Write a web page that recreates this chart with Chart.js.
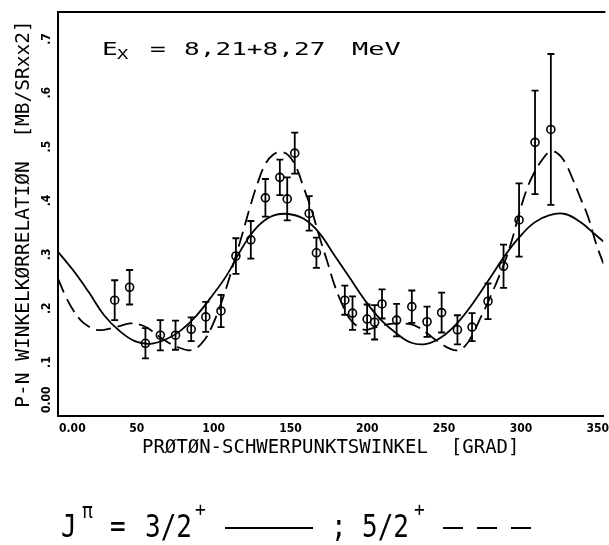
<!DOCTYPE html>
<html><head><meta charset="utf-8">
<script src="https://cdn.jsdelivr.net/npm/chart.js@4.4.1/dist/chart.umd.min.js"></script>
<style>html,body{margin:0;padding:0;background:#fff;}</style>
</head><body>
<canvas id="c" width="609" height="545"></canvas>
<script>
// ---- data ----
const pointAngles = [36.9, 46.6, 56.9, 66.6, 76.5, 86.7, 96.2, 106.1, 115.8, 125.5, 135.0, 144.4, 149.2, 154.1, 163.5, 168.2, 186.7, 191.7, 201.2, 206.1, 210.9, 220.4, 230.3, 240.2, 249.7, 260.0, 269.5, 279.9, 290.0, 300.1, 310.5, 320.8];
const pointValues = [0.215, 0.239, 0.135, 0.150, 0.150, 0.161, 0.184, 0.195, 0.297, 0.327, 0.405, 0.443, 0.403, 0.488, 0.376, 0.303, 0.215, 0.191, 0.180, 0.174, 0.208, 0.178, 0.203, 0.175, 0.192, 0.160, 0.165, 0.213, 0.278, 0.364, 0.508, 0.532];
const pointErrors = [0.037, 0.032, 0.028, 0.028, 0.027, 0.022, 0.028, 0.030, 0.033, 0.035, 0.035, 0.033, 0.040, 0.038, 0.032, 0.028, 0.027, 0.031, 0.027, 0.032, 0.027, 0.030, 0.030, 0.028, 0.037, 0.027, 0.026, 0.033, 0.040, 0.068, 0.096, 0.140];

const fit32Angles = [0,10,20,30,40,50,60,70,80,90,100,110,120,130,140,150,160,170,180,190,200,210,220,230,240,250,260,270,280,290,300,310,320,330,340,350,355];
const fit32Values = [0.305,0.270,0.230,0.187,0.158,0.139,0.134,0.142,0.159,0.186,0.222,0.262,0.313,0.352,0.372,0.375,0.366,0.340,0.298,0.256,0.214,0.179,0.154,0.136,0.134,0.147,0.173,0.209,0.251,0.294,0.331,0.359,0.373,0.375,0.360,0.336,0.324];

const fit52Angles = [0,5,10,15,20,25,30,40,47,55,60,66,72,77,85,90,95,100,105,110,115,120,125,130,135,140,145,150,155,160,165,170,175,180,185,190,195,200,205,212,220,230,235,240,245,250,255,260,265,270,275,280,285,290,295,300,305,310,315,320,325,330,335,340,345,350,355];
const fit52Values = [0.255,0.222,0.196,0.177,0.166,0.160,0.160,0.167,0.172,0.168,0.160,0.147,0.136,0.129,0.122,0.126,0.140,0.165,0.200,0.242,0.290,0.338,0.388,0.433,0.468,0.485,0.490,0.484,0.462,0.423,0.383,0.334,0.289,0.243,0.207,0.180,0.166,0.160,0.163,0.169,0.172,0.170,0.164,0.154,0.143,0.133,0.125,0.122,0.130,0.152,0.182,0.212,0.245,0.280,0.322,0.374,0.420,0.452,0.475,0.490,0.488,0.471,0.440,0.405,0.370,0.322,0.283];

const xTickLabels = ['0.00','50','100','150','200','250','300','350'];
const yTickLabels = ['0.00','.1','.2','.3','.4','.5','.6','.7'];

const MONO = "'DejaVu Sans Mono', 'Liberation Mono', monospace";
const NARROW = "'Liberation Sans Narrow', 'DejaVu Sans Condensed', 'Liberation Sans', sans-serif";

const toXY = (xs, ys) => xs.map((x, i) => ({x: x, y: ys[i]}));

const errorBars = {
  id: 'errorBars',
  afterDatasetsDraw(chart) {
    const ctx = chart.ctx, xs = chart.scales.x, ys = chart.scales.y;
    ctx.save();
    ctx.strokeStyle = '#000';
    ctx.lineWidth = 1.8;
    pointAngles.forEach((a, i) => {
      const px = xs.getPixelForValue(a);
      const y1 = ys.getPixelForValue(pointValues[i] + pointErrors[i]);
      const y2 = ys.getPixelForValue(pointValues[i] - pointErrors[i]);
      ctx.beginPath();
      ctx.moveTo(px, y1); ctx.lineTo(px, y2);
      ctx.moveTo(px - 3.5, y1); ctx.lineTo(px + 3.5, y1);
      ctx.moveTo(px - 3.5, y2); ctx.lineTo(px + 3.5, y2);
      ctx.stroke();
    });
    ctx.restore();
  }
};

function stretchText(ctx, text, x, y, sx, sy) {
  ctx.save();
  ctx.translate(x, y);
  ctx.scale(sx, sy);
  ctx.fillText(text, 0, 0);
  ctx.restore();
}

const decor = {
  id: 'decor',
  afterDraw(chart) {
    const ctx = chart.ctx, ca = chart.chartArea;
    const xs = chart.scales.x, ys = chart.scales.y;
    ctx.save();
    ctx.strokeStyle = '#000';
    ctx.fillStyle = '#000';
    // top frame line
    ctx.lineWidth = 2;
    ctx.beginPath();
    ctx.moveTo(ca.left, ca.top); ctx.lineTo(ca.right + 2, ca.top);
    ctx.stroke();

    // x tick labels
    ctx.font = 'bold 12px ' + NARROW;
    ctx.textBaseline = 'middle';
    xs.ticks.forEach((t, i) => {
      const px = xs.getPixelForValue(t.value);
      if (i === 0) { ctx.textAlign = 'left'; ctx.fillText(xTickLabels[i], px + 1, 429); }
      else { ctx.textAlign = 'center'; ctx.fillText(xTickLabels[i] || '', px + 2, 429); }
    });
    // y tick labels (rotated)
    ys.ticks.forEach((t, i) => {
      const py = ys.getPixelForValue(t.value);
      ctx.save();
      ctx.translate(46.5, i === 0 ? py - 3 : py);
      ctx.rotate(-Math.PI / 2);
      ctx.textAlign = i === 0 ? 'left' : 'center';
      ctx.fillText(yTickLabels[i] || '', 0, 0);
      ctx.restore();
    });

    // E_X = 8,21+8,27 MeV
    ctx.textAlign = 'left';
    ctx.textBaseline = 'alphabetic';
    ctx.font = '18px ' + MONO;
    stretchText(ctx, 'E', 102, 55, 1.45, 1);
    ctx.font = '14px ' + MONO;
    stretchText(ctx, 'X', 117, 59, 1.35, 1);
    ctx.font = '18px ' + MONO;
    stretchText(ctx, '=', 150, 55, 1.45, 1);
    stretchText(ctx, '8,21+8,27', 184, 55, 1.45, 1);
    stretchText(ctx, 'MeV', 352, 55, 1.5, 1);

    // legend: J^pi = 3/2^+ ----- ; 5/2^+ - - -
    ctx.font = '26px ' + MONO;
    stretchText(ctx, 'J', 61, 537, 1, 1.2);
    stretchText(ctx, '=', 110, 537, 1, 1.2);
    stretchText(ctx, '3/2', 145, 537, 1, 1.2);
    stretchText(ctx, ';', 331, 537, 1, 1.2);
    stretchText(ctx, '5/2', 362, 537, 1, 1.2);
    ctx.font = '18px ' + MONO;
    stretchText(ctx, 'π', 82, 518, 1, 1.2);
    stretchText(ctx, '+', 195, 516, 1, 1.1);
    stretchText(ctx, '+', 414, 516, 1, 1.1);
    ctx.lineWidth = 2.2;
    ctx.beginPath();
    ctx.moveTo(225, 528); ctx.lineTo(313, 528);
    ctx.stroke();
    ctx.setLineDash([20, 14]);
    ctx.beginPath();
    ctx.moveTo(443, 528); ctx.lineTo(531, 528);
    ctx.stroke();
    ctx.restore();
  }
};

new Chart(document.getElementById('c'), {
  type: 'scatter',
  data: {
    datasets: [
      {
        label: 'Messwerte',
        data: toXY(pointAngles, pointValues),
        showLine: false,
        pointStyle: 'circle',
        pointRadius: 4,
        pointBorderWidth: 1.6,
        pointBorderColor: '#000',
        pointBackgroundColor: 'rgba(255,255,255,0)'
      },
      {
        label: 'J = 3/2+',
        data: toXY(fit32Angles, fit32Values),
        showLine: true,
        borderColor: '#000',
        borderWidth: 1.8,
        pointRadius: 0,
        tension: 0.4
      },
      {
        label: 'J = 5/2+',
        data: toXY(fit52Angles, fit52Values),
        showLine: true,
        borderColor: '#000',
        borderWidth: 1.8,
        borderDash: [15, 7],
        pointRadius: 0,
        tension: 0.4
      }
    ]
  },
  options: {
    responsive: false,
    devicePixelRatio: 1,
    animation: false,
    layout: { padding: { left: 0, top: 12, right: 2, bottom: 0 } },
    plugins: { legend: { display: false }, tooltip: { enabled: false } },
    scales: {
      x: {
        type: 'linear', min: 0, max: 355,
        ticks: { stepSize: 50, display: false, includeBounds: false },
        grid: { display: false, drawTicks: false },
        border: { display: true, color: '#000', width: 2 },
        title: {
          display: true, text: 'PRØTØN-SCHWERPUNKTSWINKEL  [GRAD]', color: '#000',
          font: { family: MONO, size: 19 }, padding: { top: 0, bottom: 86 }
        },
        afterFit(s) { s.height = 129; }
      },
      y: {
        type: 'linear', min: 0, max: 0.75,
        ticks: { stepSize: 0.1, display: false, includeBounds: false },
        grid: { display: false, drawTicks: false },
        border: { display: true, color: '#000', width: 2 },
        title: {
          display: true, text: 'P-N WINKELKØRRELATIØN  [MB/SRxx2]', color: '#000',
          font: { family: MONO, size: 19.5 }, padding: { top: 12, bottom: 0 }
        },
        afterFit(s) { s.width = 58; }
      }
    }
  },
  plugins: [errorBars, decor]
});
</script>
</body></html>
